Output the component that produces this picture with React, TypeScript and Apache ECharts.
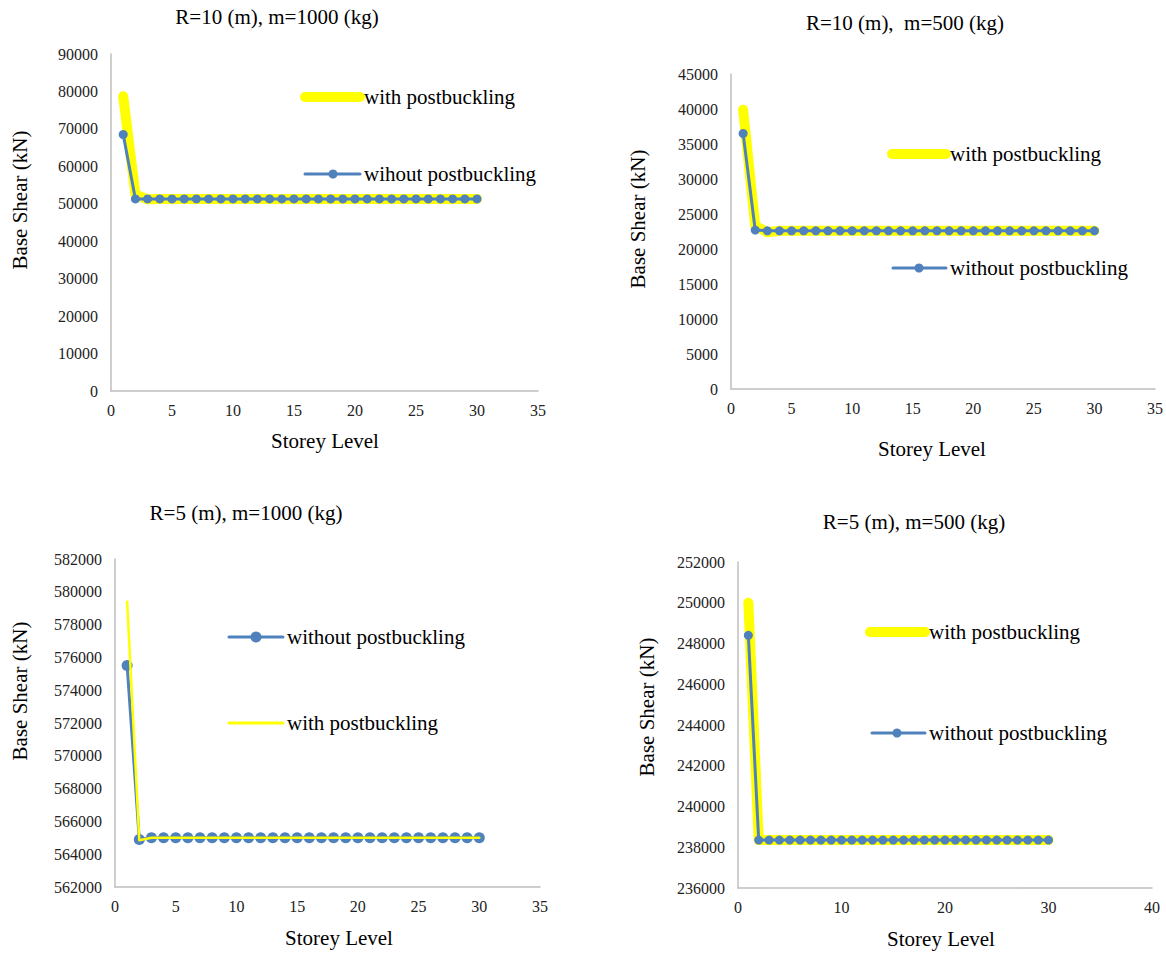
import React, { useEffect, useRef } from "react";
import * as echarts from "echarts";

// ---------- data ----------
const STOREYS = [1, 2, 3, 4, 5, 6, 7, 8, 9, 10, 11, 12, 13, 14, 15, 16, 17, 18, 19, 20, 21, 22, 23, 24, 25, 26, 27, 28, 29, 30];

// Panel 1: R=10 (m), m=1000 (kg)
const P1_WITH = [78700, 52500, 51200, 51300, 51300, 51300, 51300, 51300, 51300, 51300, 51300, 51300, 51300, 51300, 51300, 51300, 51300, 51300, 51300, 51300, 51300, 51300, 51300, 51300, 51300, 51300, 51300, 51300, 51300, 51300];
const P1_WITHOUT = [68500, 51300, 51300, 51300, 51300, 51300, 51300, 51300, 51300, 51300, 51300, 51300, 51300, 51300, 51300, 51300, 51300, 51300, 51300, 51300, 51300, 51300, 51300, 51300, 51300, 51300, 51300, 51300, 51300, 51300];

// Panel 2: R=10 (m), m=500 (kg)
const P2_WITH = [39900, 23300, 22400, 22600, 22600, 22600, 22600, 22600, 22600, 22600, 22600, 22600, 22600, 22600, 22600, 22600, 22600, 22600, 22600, 22600, 22600, 22600, 22600, 22600, 22600, 22600, 22600, 22600, 22600, 22600];
const P2_WITHOUT = [36500, 22700, 22600, 22600, 22600, 22600, 22600, 22600, 22600, 22600, 22600, 22600, 22600, 22600, 22600, 22600, 22600, 22600, 22600, 22600, 22600, 22600, 22600, 22600, 22600, 22600, 22600, 22600, 22600, 22600];

// Panel 3: R=5 (m), m=1000 (kg)
const P3_WITHOUT = [575500, 564900, 565000, 565000, 565000, 565000, 565000, 565000, 565000, 565000, 565000, 565000, 565000, 565000, 565000, 565000, 565000, 565000, 565000, 565000, 565000, 565000, 565000, 565000, 565000, 565000, 565000, 565000, 565000, 565000];
const P3_WITH = [579400, 564850, 565000, 565000, 565000, 565000, 565000, 565000, 565000, 565000, 565000, 565000, 565000, 565000, 565000, 565000, 565000, 565000, 565000, 565000, 565000, 565000, 565000, 565000, 565000, 565000, 565000, 565000, 565000, 565000];

// Panel 4: R=5 (m), m=500 (kg)
const P4_WITH = [250000, 238350, 238350, 238350, 238350, 238350, 238350, 238350, 238350, 238350, 238350, 238350, 238350, 238350, 238350, 238350, 238350, 238350, 238350, 238350, 238350, 238350, 238350, 238350, 238350, 238350, 238350, 238350, 238350, 238350];
const P4_WITHOUT = [248400, 238350, 238350, 238350, 238350, 238350, 238350, 238350, 238350, 238350, 238350, 238350, 238350, 238350, 238350, 238350, 238350, 238350, 238350, 238350, 238350, 238350, 238350, 238350, 238350, 238350, 238350, 238350, 238350, 238350];

const TITLES = ["R=10 (m), m=1000 (kg)", "R=10 (m),  m=500 (kg)", "R=5 (m), m=1000 (kg)", "R=5 (m), m=500 (kg)"];
const X_NAME = "Storey Level";
const Y_NAME = "Base Shear (kN)";
const WITH_LABEL = "with postbuckling";
const WITHOUT_LABELS = ["wihout postbuckling", "without postbuckling", "without postbuckling", "without postbuckling"];

// axis ranges
const Y_RANGES = [
  { min: 0, max: 90000, interval: 10000 },
  { min: 0, max: 45000, interval: 5000 },
  { min: 562000, max: 582000, interval: 2000 },
  { min: 236000, max: 252000, interval: 2000 },
];
const X_RANGES = [
  { min: 0, max: 35, interval: 5 },
  { min: 0, max: 35, interval: 5 },
  { min: 0, max: 35, interval: 5 },
  { min: 0, max: 40, interval: 10 },
];

// ---------- styles / layout ----------
const FONT = "Liberation Serif";
const YELLOW = "#FFFF00";
const BLUE = "#4F81BD";
const AXIS = "#BFBFBF";

const GRIDS = [
  { left: 111, top: 54, width: 427, height: 337 },
  { left: 731, top: 74, width: 424, height: 315 },
  { left: 115, top: 559, width: 425, height: 328 },
  { left: 738, top: 562, width: 414, height: 326 },
];

const TITLE_POS = [[277, 17], [905, 23], [246, 513], [914, 522]];
const XNAME_POS = [[325, 441], [932, 449], [339, 938], [941, 939]];
const YNAME_POS = [[20, 200], [638, 219], [20, 691], [647, 707]];

function pair(vals: number[]) {
  return STOREYS.map((s, i) => [s, vals[i]]);
}

function txt(x: number, y: number, text: string, align: string, rotation = 0) {
  return {
    type: "text",
    x,
    y,
    rotation,
    z: 10,
    style: { text, fontFamily: FONT, fontSize: 21, fill: "#000", textAlign: align, textVerticalAlign: "middle" },
  };
}

function legendWith(x1: number, x2: number, y: number, w: number) {
  return [
    { type: "line", shape: { x1, y1: y, x2, y2: y }, style: { stroke: YELLOW, lineWidth: w, lineCap: "round" }, z: 10 },
    txt(x2 + 4, y, WITH_LABEL, "left"),
  ];
}
function legendWithout(x1: number, x2: number, mx: number, y: number, r: number, label: string) {
  return [
    { type: "line", shape: { x1, y1: y, x2, y2: y }, style: { stroke: BLUE, lineWidth: 3, lineCap: "round" }, z: 10 },
    { type: "circle", shape: { cx: mx, cy: y, r }, style: { fill: BLUE }, z: 11 },
    txt(x2 + 4, y, label, "left"),
  ];
}

export default function App() {
  const ref = useRef<HTMLDivElement>(null);
  useEffect(() => {
    if (!ref.current) return;
    const chart = echarts.init(ref.current, undefined, { renderer: "svg" });

    const withData = [P1_WITH, P2_WITH, P3_WITH, P4_WITH];
    const withoutData = [P1_WITHOUT, P2_WITHOUT, P3_WITHOUT, P4_WITHOUT];
    const yellowWidth = [10, 10, 2.5, 10];
    const markerSize = [9, 9, 11, 9];

    const series: any[] = [];
    for (let i = 0; i < 4; i++) {
      const yellow: any = {
        type: "line",
        name: WITH_LABEL,
        xAxisIndex: i,
        yAxisIndex: i,
        data: pair(withData[i]),
        symbol: "none",
        lineStyle: { color: YELLOW, width: yellowWidth[i], cap: "round", join: "round" },
        itemStyle: { color: YELLOW },
        z: 2,
      };
      const blue: any = {
        type: "line",
        name: WITHOUT_LABELS[i],
        xAxisIndex: i,
        yAxisIndex: i,
        data: pair(withoutData[i]),
        symbol: "circle",
        symbolSize: markerSize[i],
        showSymbol: true,
        lineStyle: { color: BLUE, width: 3, join: "round" },
        itemStyle: { color: BLUE },
        z: 3,
      };
      if (i === 2) {
        yellow.z = 4;
        series.push(blue, yellow);
      } else {
        series.push(yellow, blue);
      }
    }

    const xAxis = X_RANGES.map((r, i) => ({
      type: "value",
      gridIndex: i,
      min: r.min,
      max: r.max,
      interval: r.interval,
      splitLine: { show: false },
      axisTick: { show: false },
      axisLine: { show: true, onZero: false, lineStyle: { color: AXIS, width: 1.5 } },
      axisLabel: { color: "#222", fontFamily: FONT, fontSize: 16, margin: 11, showMinLabel: true, showMaxLabel: true },
    }));
    const yAxis = Y_RANGES.map((r, i) => ({
      type: "value",
      gridIndex: i,
      min: r.min,
      max: r.max,
      interval: r.interval,
      splitLine: { show: false },
      axisTick: { show: false },
      axisLine: { show: true, onZero: false, lineStyle: { color: AXIS, width: 1.5 } },
      axisLabel: { color: "#222", fontFamily: FONT, fontSize: 16, margin: 13, formatter: (v: number) => String(v) },
    }));

    const graphic: any[] = [];
    for (let i = 0; i < 4; i++) {
      graphic.push(txt(TITLE_POS[i][0], TITLE_POS[i][1], TITLES[i], "center"));
      graphic.push(txt(XNAME_POS[i][0], XNAME_POS[i][1], X_NAME, "center"));
      graphic.push(txt(YNAME_POS[i][0], YNAME_POS[i][1], Y_NAME, "center", Math.PI / 2));
    }
    // legends
    graphic.push(...legendWith(305, 360, 97, 10));
    graphic.push(...legendWithout(305, 360, 333, 174, 4.5, WITHOUT_LABELS[0]));
    graphic.push(...legendWith(892, 946, 154, 10));
    graphic.push(...legendWithout(893, 946, 919, 268, 4.5, WITHOUT_LABELS[1]));
    graphic.push(...legendWithout(229, 283, 256, 637, 5.5, WITHOUT_LABELS[2]));
    graphic.push(...legendWith(229, 283, 723, 3));
    graphic.push(...legendWith(870, 925, 632, 10));
    graphic.push(...legendWithout(872, 925, 897, 733, 4.5, WITHOUT_LABELS[3]));

    chart.setOption({
      animation: false,
      backgroundColor: "#fff",
      textStyle: { fontFamily: FONT },
      grid: GRIDS.map((g) => ({ ...g, containLabel: false })),
      xAxis,
      yAxis,
      series,
      graphic,
    });
    return () => chart.dispose();
  }, []);

  return <div ref={ref} style={{ position: "absolute", left: 0, top: 0, width: 1166, height: 953 }} />;
}
